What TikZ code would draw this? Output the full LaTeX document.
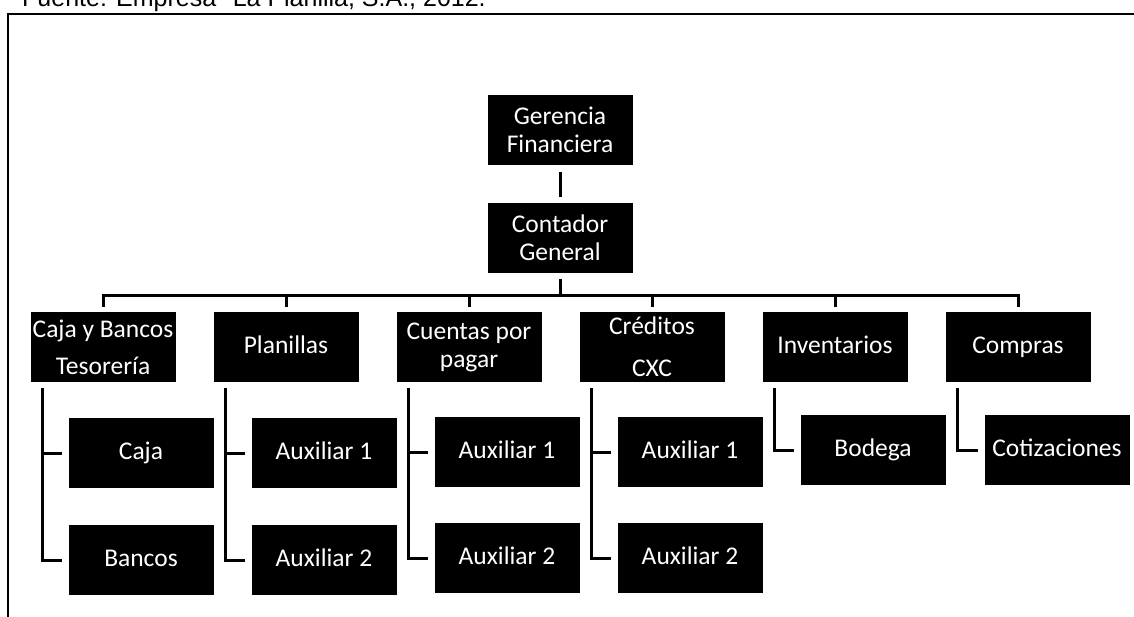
\documentclass[tikz,border=0pt]{standalone}
\usepackage{fontspec}
\setmainfont{Carlito}
\newfontfamily\capfont{Liberation Sans}
\begin{document}
\begin{tikzpicture}[x=1pt,y=-1pt,
  box/.style={fill=black,text=white,minimum width=145pt,minimum height=70pt,inner sep=0pt,align=center,font=\fontsize{25.5}{28}\selectfont},
  one/.style={box,text height=17pt,text depth=5pt},
  conn/.style={line width=3pt,line join=miter,line cap=butt},
  frame/.style={line width=1.6pt}]
\useasboundingbox (0,0) rectangle (1134,616);
\clip (0,0) rectangle (1134,616);
% caption (cut off at top, as in the source)
\node[anchor=base west,inner sep=0pt,font=\capfont\fontsize{25}{28}\selectfont] (cap) at (22,6) {Fuente: Empresa ''La Planilla, S.A., 2012.};
% frame
\coordinate (fb) at (8,620);
\coordinate (ft) at (8,14);
\coordinate (fr) at (1140,14);
\draw[frame] (fb) -- (ft) -- (fr);
% level 1
\node[box] (ger) at (560,129.5) {Gerencia\\Financiera};
\node[box] (con) at (560,238) {Contador\\General};
% level 2
\node[box] (caja) at (103,347) {Caja y Bancos\\[9pt]Tesorería};
\node[one] (pla) at (286,347) {Planillas};
\node[box] (cue) at (469,347) {Cuentas por\\pagar};
\node[box] (cre) at (652,347) {Créditos\\[14pt]CXC};
\node[one] (inv) at (835,347) {Inventarios};
\node[one] (com) at (1018,347) {Compras};
% level 3
\node[one] (cajaA) at (141,453) {Caja};
\node[one] (cajaB) at (141,560) {Bancos};
\node[one] (plaA) at (324,453) {Auxiliar 1};
\node[one] (plaB) at (324,560) {Auxiliar 2};
\node[one] (cueA) at (507,452) {Auxiliar 1};
\node[one] (cueB) at (507,558) {Auxiliar 2};
\node[one] (creA) at (690,452) {Auxiliar 1};
\node[one] (creB) at (690,558) {Auxiliar 2};
\node[one] (invA) at (873,450) {Bodega};
\node[one] (comA) at (1057,450) {Cotizaciones};
% connectors
\coordinate (bus) at (0,295);
\draw[conn] ([yshift=-7pt]ger.south) -- ([yshift=6pt]con.north);
\draw[conn] ([yshift=-6pt]con.south) -- (con.south |- bus);
\draw[conn] ([yshift=5pt]caja.north) -- (caja.north |- bus) -- (com.north |- bus) -- ([yshift=5pt]com.north);
\foreach \p in {pla,cue,cre,inv}
  \draw[conn] (\p.north |- bus) -- ([yshift=5pt]\p.north);
% children with two boxes
\foreach \p in {caja,pla,cue,cre}{
  \coordinate (\p v) at ([xshift=12pt,yshift=-6pt]\p.south west);
  \draw[conn] (\p v) |- ([xshift=-6pt]\p B.west);
  \draw[conn] (\p v |- \p A.west) -- ([xshift=-6pt]\p A.west);
}
% children with one box
\foreach \p in {inv,com}{
  \coordinate (\p v) at ([xshift=12pt,yshift=-6pt]\p.south west);
  \draw[conn] (\p v) |- ([xshift=-6pt]\p A.west);
}
\end{tikzpicture}
\end{document}
